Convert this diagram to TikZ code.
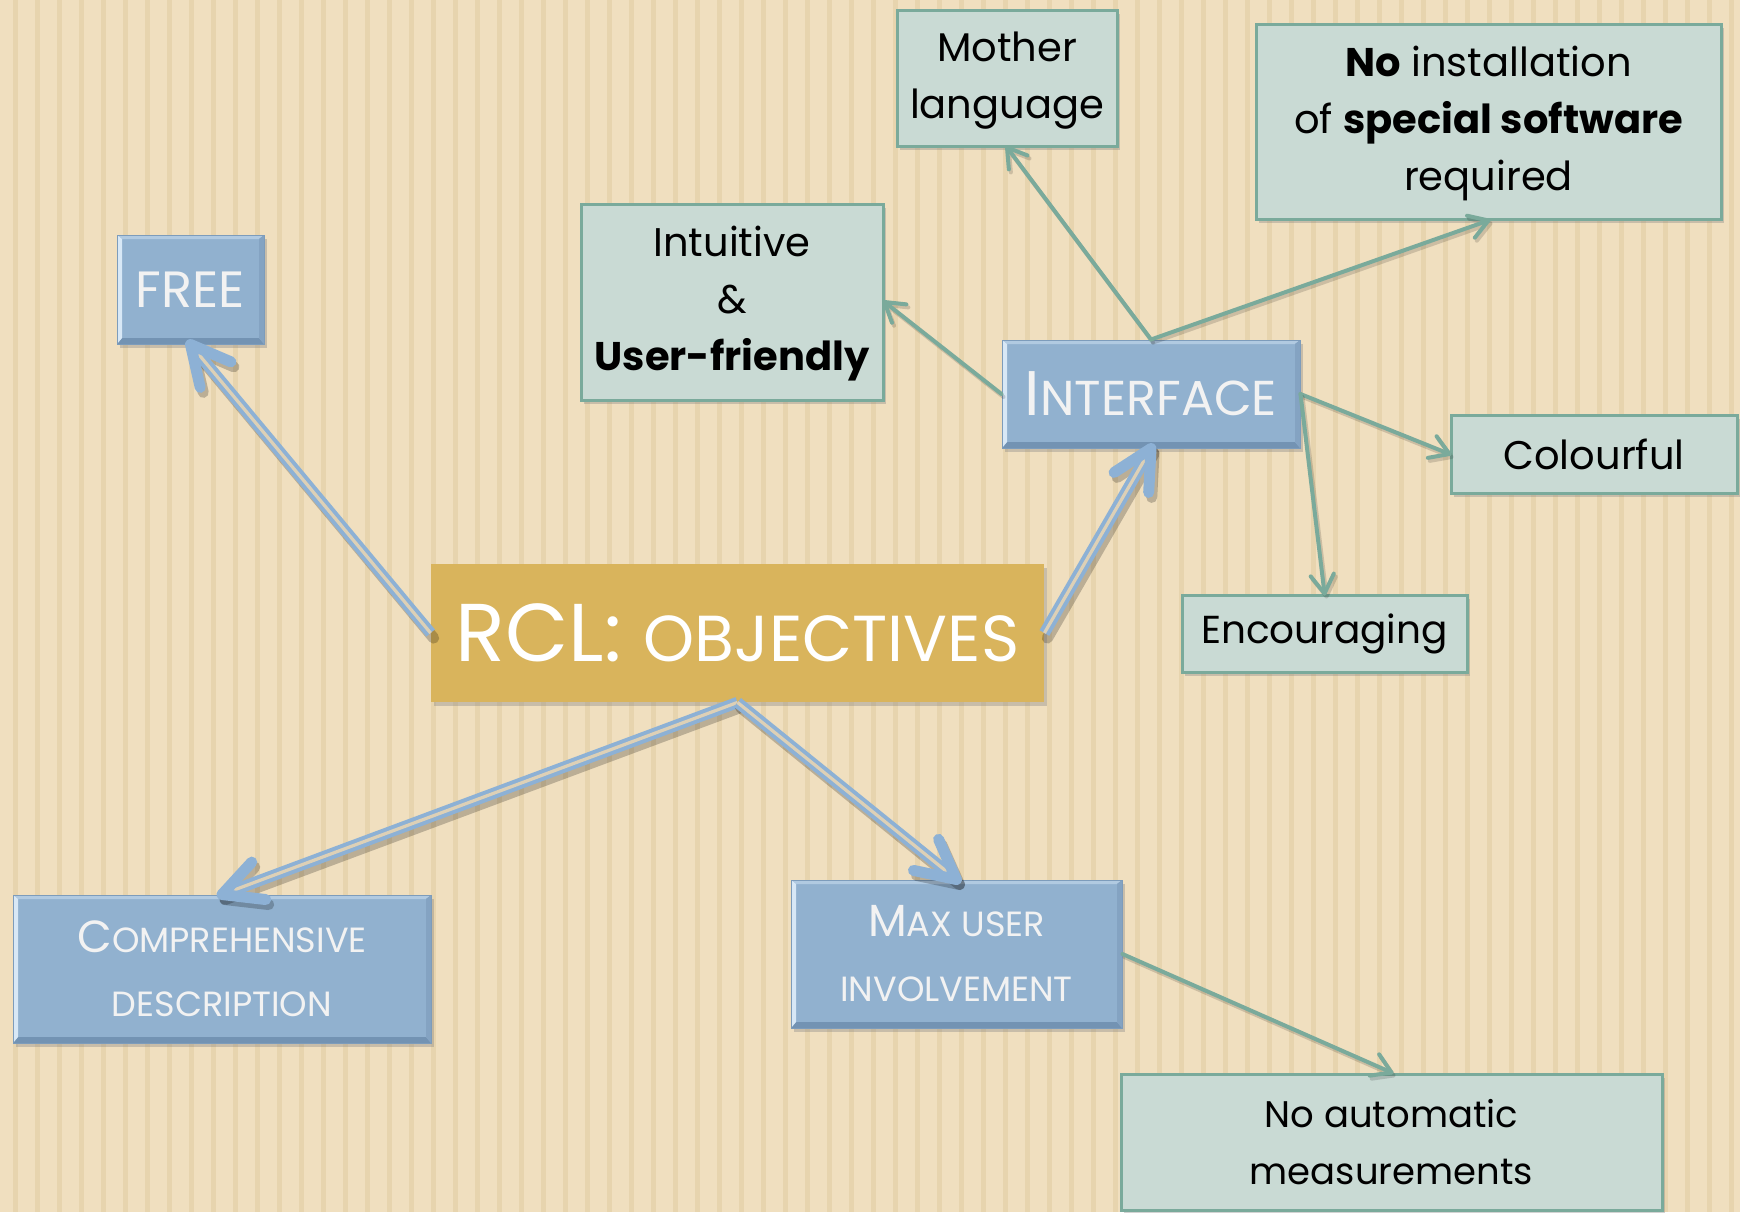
\documentclass[tikz,border=0pt]{standalone}
\usepackage{fontspec}
\setmainfont{Poppins}
\usetikzlibrary{shadows,calc}
\definecolor{bglight}{HTML}{F0DFBF}
\definecolor{bgstripe}{HTML}{E7D4AE}
\definecolor{bluefill}{HTML}{91B1CF}
\definecolor{blueedge}{HTML}{7D9CBB}
\definecolor{bluehi}{HTML}{D8E8F6}
\definecolor{bluedark}{HTML}{7393B3}
\definecolor{bluetext}{HTML}{F2F2F2}
\definecolor{greenfill}{HTML}{C9DAD4}
\definecolor{greenedge}{HTML}{7AAA9B}
\definecolor{goldfill}{HTML}{D9B45C}
\definecolor{arrowblue}{HTML}{8DB1D5}
\definecolor{gapcol}{HTML}{DDD0B6}
\newcommand\blueconn[2]{%
  \begin{scope}[transform canvas={shift={(1.5pt,-2.5pt)}}]
    \draw[black, opacity=0.22, line width=5.6pt, line cap=round] (#1) -- (#2);
    \draw[black, opacity=0.22, line width=5.5pt, line cap=round, line join=round]
      ($(#2)!22pt!27:(#1)$) -- (#2) -- ($(#2)!22pt!-27:(#1)$);
  \end{scope}
  \draw[arrowblue, line width=2pt, double=gapcol, double distance=1.6pt] (#1) -- (#2);
  \draw[arrowblue, line width=5.5pt, line cap=round, line join=round]
    ($(#2)!22pt!27:(#1)$) -- (#2) -- ($(#2)!22pt!-27:(#1)$);
}
\newcommand\greenconn[2]{%
  \begin{scope}[transform canvas={shift={(1pt,-1.5pt)}}]
    \draw[black, opacity=0.15, line width=2pt, line cap=round, line join=round]
      (#1) -- (#2) ($(#2)!11pt!32:(#1)$) -- (#2) -- ($(#2)!11pt!-32:(#1)$);
  \end{scope}
  \draw[greenedge, line width=2pt, line cap=round] (#1) -- (#2);
  \draw[greenedge, line width=2pt, line cap=round, line join=round]
    ($(#2)!11pt!32:(#1)$) -- (#2) -- ($(#2)!11pt!-32:(#1)$);
}
\newcommand\bigsc[1]{{\fontsize{22.5}{22.5}\selectfont #1}}
\begin{document}
\begin{tikzpicture}[x=0.5pt,y=-0.5pt,
  shadowed/.style={drop shadow={opacity=0.35, shadow xshift=1.5pt, shadow yshift=-2pt}},
  basebox/.style={rectangle, inner sep=0pt, align=center, shadowed},
  bluebox/.style={basebox, fill=bluefill, draw=blueedge, line width=0.5pt, text=bluetext,
    path picture={
      \coordinate (ppnw) at (path picture bounding box.north west);
      \coordinate (ppne) at (path picture bounding box.north east);
      \coordinate (ppsw) at (path picture bounding box.south west);
      \coordinate (ppse) at (path picture bounding box.south east);
      \fill[bluehi!45!bluefill] (ppnw) -- (ppne) -- ([shift={(-2.5pt,-2pt)}]ppne) -- ([shift={(2.5pt,-2pt)}]ppnw) -- cycle;
      \fill[bluedark] (ppsw) -- (ppse) -- ([shift={(-2.5pt,3pt)}]ppse) -- ([shift={(2.5pt,3pt)}]ppsw) -- cycle;
      \fill[bluedark!45!bluefill] (ppne) -- (ppse) -- ([shift={(-2.5pt,3pt)}]ppse) -- ([shift={(-2.5pt,-2pt)}]ppne) -- cycle;
      \fill[bluehi] (ppnw) -- (ppsw) -- ([shift={(2.5pt,3pt)}]ppsw) -- ([shift={(2.5pt,-2pt)}]ppnw) -- cycle;
    }},
  greenbox/.style={basebox, fill=greenfill, draw=greenedge, line width=1.5pt, text=black,
    font=\fontsize{20}{28.5}\selectfont},
  goldbox/.style={basebox, fill=goldfill, text=white}
]
\useasboundingbox (0,0) rectangle (1740,1212);
\fill[bglight] (0,0) rectangle (1740,1212);
\foreach \k in {0,...,78} \fill[bgstripe] ({12.5+22*\k},0) rectangle ++(5,1212);

% nodes
\node[bluebox, minimum width=73.5pt, minimum height=54.5pt,
  font=\fontsize{25.5}{25.5}\selectfont] (free) at (190.5,289.5) {FREE};
\node[goldbox, minimum width=306.5pt, minimum height=69pt] (rcl) at (737.5,633)
  {\fontsize{41}{41}\selectfont RCL: \fontsize{32.5}{32.5}\selectfont OBJECTIVES};
\node[greenbox, minimum width=151pt, minimum height=98pt] (intuitive) at (732,302)
  {\rule{0pt}{17pt}Intuitive\\ \&\\ \textbf{User-friendly}};
\node[greenbox, minimum width=110pt, minimum height=68pt] (mother) at (1007,78)
  {\rule{0pt}{17pt}Mother\\ language};
\node[greenbox, minimum width=232.5pt, minimum height=97.5pt] (noinstall) at (1488.5,121.5)
  {\rule{0pt}{17pt}\textbf{No} installation\\ of \textbf{special software}\\ required};
\node[bluebox, minimum width=149pt, minimum height=54pt,
  font=\fontsize{24.5}{24.5}\selectfont] (interface) at (1151,394)
  {{\fontsize{31.5}{31.5}\selectfont I}NTERFACE};
\node[greenbox, minimum width=143pt, minimum height=39pt] (colourful) at (1594,454)
  {Colourful};
\node[greenbox, minimum width=142.5pt, minimum height=38.5pt,
  font=\fontsize{19.5}{28.5}\selectfont] (encouraging) at (1324.5,633.5)
  {Encouraging};
\node[bluebox, minimum width=209pt, minimum height=74pt,
  font=\fontsize{17.5}{32}\selectfont] (compre) at (222,969)
  {\bigsc{C}OMPREHENSIVE\\ DESCRIPTION};
\node[bluebox, minimum width=165.5pt, minimum height=74pt,
  font=\fontsize{17.5}{32.5}\selectfont] (maxuser) at (956.5,954)
  {\bigsc{M}AX USER\\ INVOLVEMENT};
\node[greenbox, minimum width=270.5pt, minimum height=68pt,
  font=\fontsize{18.5}{28.5}\selectfont] (noauto) at (1391.5,1142)
  {No automatic\\ measurements};

% connectors
\blueconn{rcl.west}{free.south}
\blueconn{rcl.east}{interface.south}
\blueconn{rcl.south}{compre.north}
\blueconn{rcl.south}{maxuser.north}
\greenconn{interface.west}{intuitive.east}
\greenconn{interface.north}{mother.south}
\greenconn{interface.north}{noinstall.south}
\greenconn{interface.east}{colourful.west}
\greenconn{interface.east}{encouraging.north}
\greenconn{maxuser.east}{noauto.north}
\end{tikzpicture}
\end{document}
